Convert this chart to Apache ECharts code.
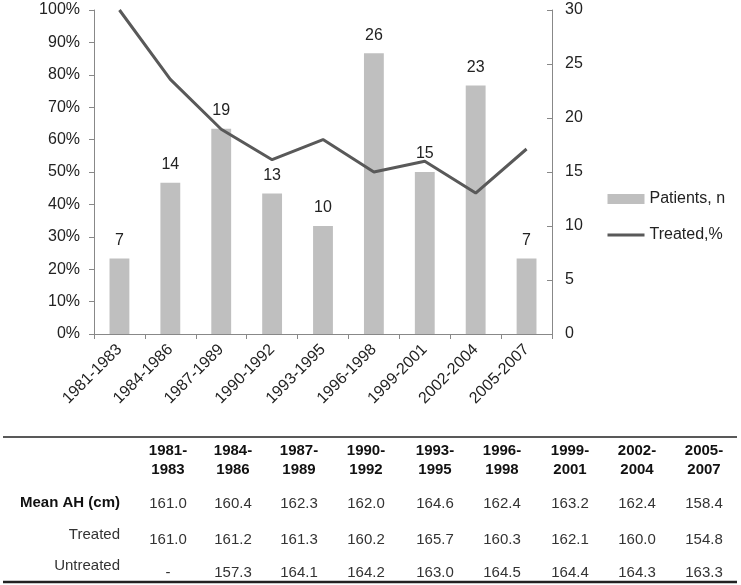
<!DOCTYPE html>
<html><head><meta charset="utf-8">
<script src="https://cdn.jsdelivr.net/npm/echarts@6/dist/echarts.min.js"></script>
<style>html,body{margin:0;padding:0;background:#fff}#c{width:741px;height:585px}</style>
</head><body><div id="c"></div>
<script>
var categories = ['1981-1983','1984-1986','1987-1989','1990-1992','1993-1995','1996-1998','1999-2001','2002-2004','2005-2007'];
var patients = [7,14,19,13,10,26,15,23,7];
var treatedPct = [100,78.6,63.2,53.8,60,50,53.3,43.5,57.1];
var leftTicks = {min:0,max:100,interval:10};
var rightTicks = {min:0,max:30,interval:5};
var rowLabels = ['Mean AH (cm)','Treated','Untreated'];
var meanAH = ['161.0','160.4','162.3','162.0','164.6','162.4','163.2','162.4','158.4'];
var treatedAH = ['161.0','161.2','161.3','160.2','165.7','160.3','162.1','160.0','154.8'];
var untreatedAH = ['-','157.3','164.1','164.2','163.0','164.5','164.4','164.3','163.3'];

var FONT = '"Liberation Sans", Arial, sans-serif';
var chart = echarts.init(document.getElementById('c'));

var colX = [168,233,299,366,435,502,570,637,704];
var g = [];
g.push({type:'line', shape:{x1:3,y1:437,x2:737,y2:437}, style:{stroke:'#222',lineWidth:1.5}});
g.push({type:'line', shape:{x1:3,y1:582,x2:737,y2:582}, style:{stroke:'#222',lineWidth:2.5}});
categories.forEach(function(c,i){
  var parts = c.split('-');
  g.push({type:'text', x:colX[i], y:451, style:{text:parts[0]+'-', font:'bold 15px '+FONT, fill:'#111', textAlign:'center', textVerticalAlign:'middle'}});
  g.push({type:'text', x:colX[i], y:470, style:{text:parts[1], font:'bold 15px '+FONT, fill:'#111', textAlign:'center', textVerticalAlign:'middle'}});
  g.push({type:'text', x:colX[i], y:504, style:{text:meanAH[i], font:'15px '+FONT, fill:'#333', textAlign:'center', textVerticalAlign:'middle'}});
  g.push({type:'text', x:colX[i], y:540, style:{text:treatedAH[i], font:'15px '+FONT, fill:'#333', textAlign:'center', textVerticalAlign:'middle'}});
  g.push({type:'text', x:colX[i], y:573, style:{text:untreatedAH[i], font:'15px '+FONT, fill:'#333', textAlign:'center', textVerticalAlign:'middle'}});
});
g.push({type:'text', x:120, y:503, style:{text:rowLabels[0], font:'bold 15px '+FONT, fill:'#111', textAlign:'right', textVerticalAlign:'middle'}});
g.push({type:'text', x:120, y:535, style:{text:rowLabels[1], font:'15px '+FONT, fill:'#333', textAlign:'right', textVerticalAlign:'middle'}});
g.push({type:'text', x:120, y:566, style:{text:rowLabels[2], font:'15px '+FONT, fill:'#333', textAlign:'right', textVerticalAlign:'middle'}});

chart.setOption({
  animation:false,
  textStyle:{fontFamily:FONT},
  grid:{left:94, right:189, top:10, bottom:251, containLabel:false},
  legend:{
    orient:'vertical', left:601, top:186, itemWidth:37, itemHeight:10, itemGap:20,
    textStyle:{fontSize:16, color:'#222', fontFamily:FONT},
    data:[{name:'Patients, n', icon:'rect'},{name:'Treated,%', itemStyle:{opacity:0}, lineStyle:{width:3, color:'#595959'}}]
  },
  xAxis:{
    type:'category', data:categories, boundaryGap:true,
    axisLine:{lineStyle:{color:'#888'}},
    axisTick:{show:true, length:5, lineStyle:{color:'#888'}},
    axisLabel:{rotate:45, fontSize:16, color:'#222', margin:13, interval:0}
  },
  yAxis:[
    {type:'value', min:leftTicks.min, max:leftTicks.max, interval:leftTicks.interval, position:'left',
     axisLine:{show:true, lineStyle:{color:'#888'}}, axisTick:{show:true, length:5, lineStyle:{color:'#888'}},
     splitLine:{show:false}, axisLabel:{formatter:'{value}%', fontSize:16, color:'#222', margin:14}},
    {type:'value', min:rightTicks.min, max:rightTicks.max, interval:rightTicks.interval, position:'right',
     axisLine:{show:true, lineStyle:{color:'#888'}}, axisTick:{show:true, inside:true, length:5, lineStyle:{color:'#888'}},
     splitLine:{show:false}, axisLabel:{fontSize:16, color:'#222', margin:13}}
  ],
  series:[
    {name:'Patients, n', type:'bar', yAxisIndex:1, data:patients, barWidth:'39%',
     itemStyle:{color:'#BFBFBF'},
     label:{show:true, position:'top', fontSize:16, color:'#222', distance:10}},
    {name:'Treated,%', type:'line', yAxisIndex:0, data:treatedPct, symbol:'none',
     lineStyle:{color:'#595959', width:3}, itemStyle:{color:'#595959'}, z:5}
  ],
  graphic:g
});
</script></body></html>
